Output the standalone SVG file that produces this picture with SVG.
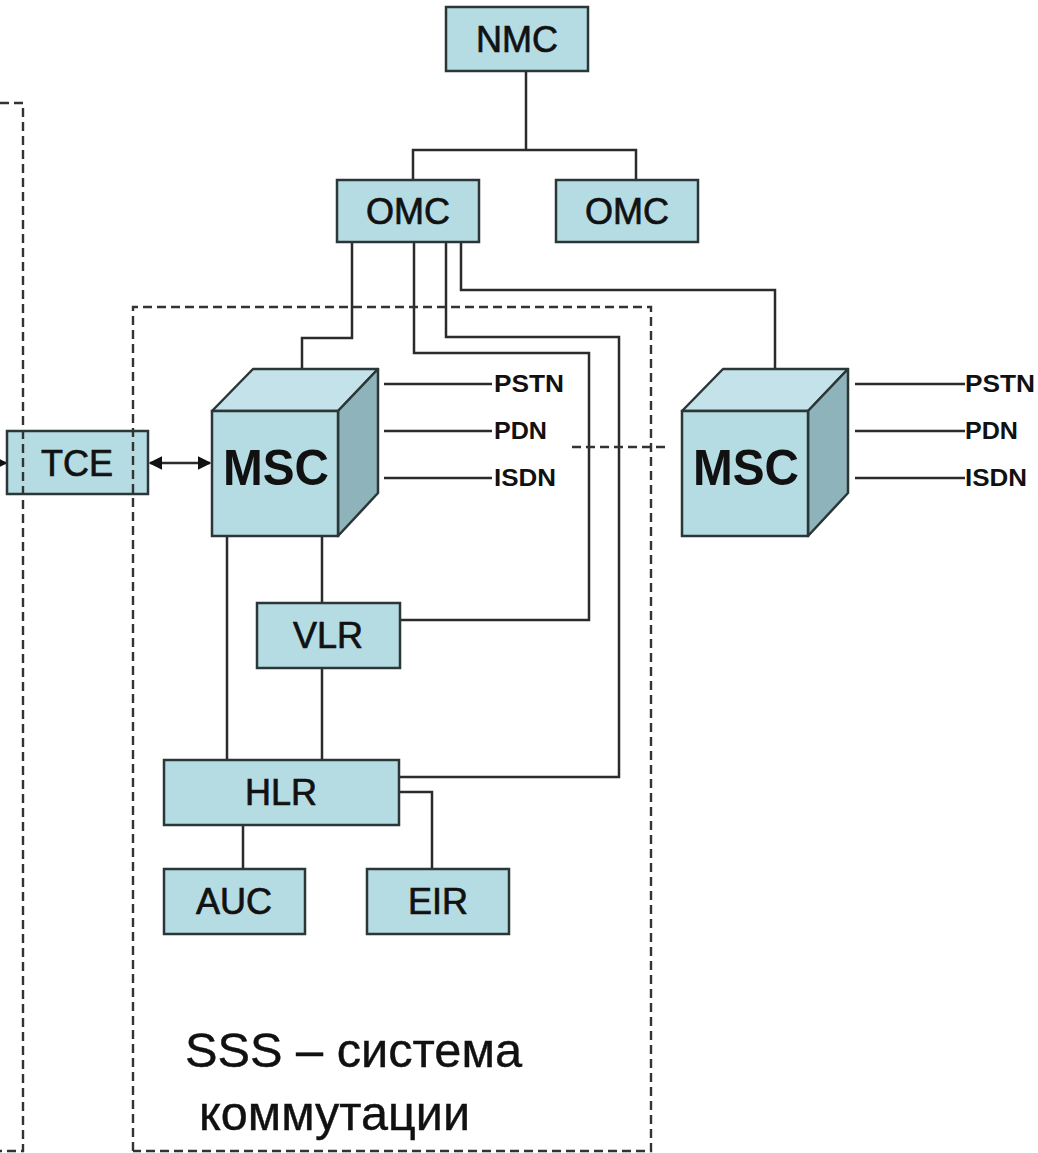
<svg xmlns="http://www.w3.org/2000/svg" width="1038" height="1153" viewBox="0 0 1038 1153">
<defs>
<style>
.box{fill:#b5dbe3;stroke:#2b3636;stroke-width:2.5}
.top{fill:#c3e2e9;stroke:#2b3636;stroke-width:2.5;stroke-linejoin:round}
.side{fill:#8fb3bb;stroke:#2b3636;stroke-width:2.5;stroke-linejoin:round}
.lbl{font-family:"Liberation Sans",Arial,sans-serif;font-size:36px;fill:#111;stroke:#111;stroke-width:0.7;text-anchor:middle}
.big{font-family:"Liberation Sans",Arial,sans-serif;font-size:50px;font-weight:bold;fill:#111;text-anchor:middle}
.net{font-family:"Liberation Sans",Arial,sans-serif;font-size:24px;font-weight:bold;fill:#111}
.cap{font-family:"Liberation Sans",Arial,sans-serif;font-size:48px;fill:#111;stroke:#111;stroke-width:0.4}
.ln{fill:none;stroke:#2b2b2b;stroke-width:2.5}
.dash{fill:none;stroke:#333;stroke-width:2.4;stroke-dasharray:9 5}
</style>
<marker id="ah" viewBox="0 0 10 10" refX="9" refY="5" markerWidth="5.5" markerHeight="5.5" orient="auto-start-reverse" markerUnits="strokeWidth">
<path d="M0,0 L10,5 L0,10 z" fill="#111"/>
</marker>
</defs>
<rect width="1038" height="1153" fill="#fff"/>

<g id="connectors">
<path class="ln" d="M526,71 V150 M413,180 V150 H636 V180"/>
<path class="ln" d="M352,242 V338 H302 V369"/>
<path class="ln" d="M414,242 V353 H589 V620 H400"/>
<path class="ln" d="M446,242 V337 H619 V777 H399"/>
<path class="ln" d="M461,242 V290 H775 V369"/>
<path class="ln" d="M384,384 H492 M384,431 H492 M384,478 H492"/>
<path class="ln" d="M855,384 H965 M855,431 H965 M855,478 H965"/>
<path class="ln" d="M227,536 V760 M322,536 V603 M322,668 V760"/>
<path class="ln" d="M243,825 V869 M399,792 H432 V869"/>
<path class="ln" d="M150,463 H210" marker-start="url(#ah)" marker-end="url(#ah)"/>
<path class="ln" d="M0,463 H6" marker-end="url(#ah)"/>
<path class="dash" d="M572,447 H668"/>
</g>

<g id="nmc"><rect class="box" x="446" y="7" width="142" height="64"/><text class="lbl" x="517" y="52">NMC</text></g>
<g id="omc1"><rect class="box" x="337" y="180" width="142" height="62"/><text class="lbl" x="408" y="224">OMC</text></g>
<g id="omc2"><rect class="box" x="556" y="180" width="142" height="62"/><text class="lbl" x="627" y="224">OMC</text></g>

<g id="tce"><rect class="box" x="7" y="431" width="141" height="63"/><text class="lbl" x="77" y="476">TCE</text></g>

<g id="msc1">
<path class="top" d="M212,411 L253,369 H378 L338,411 Z"/>
<path class="side" d="M338,411 L378,369 V493 L338,536 Z"/>
<rect class="box" x="212" y="411" width="126" height="125"/>
<text class="big" x="276" y="485" textLength="106" lengthAdjust="spacingAndGlyphs">MSC</text>
</g>
<g id="msc2">
<path class="top" d="M682,411 L723,369 H848 L808,411 Z"/>
<path class="side" d="M808,411 L848,369 V493 L808,536 Z"/>
<rect class="box" x="682" y="411" width="126" height="125"/>
<text class="big" x="746" y="485" textLength="106" lengthAdjust="spacingAndGlyphs">MSC</text>
</g>

<g id="net-labels">
<text class="net" x="494" y="392" textLength="70" lengthAdjust="spacingAndGlyphs">PSTN</text>
<text class="net" x="494" y="439" textLength="53" lengthAdjust="spacingAndGlyphs">PDN</text>
<text class="net" x="494" y="486" textLength="62" lengthAdjust="spacingAndGlyphs">ISDN</text>
<text class="net" x="965" y="392" textLength="70" lengthAdjust="spacingAndGlyphs">PSTN</text>
<text class="net" x="965" y="439" textLength="53" lengthAdjust="spacingAndGlyphs">PDN</text>
<text class="net" x="965" y="486" textLength="62" lengthAdjust="spacingAndGlyphs">ISDN</text>
</g>

<g id="vlr"><rect class="box" x="257" y="603" width="143" height="65"/><text class="lbl" x="328" y="648">VLR</text></g>
<g id="hlr"><rect class="box" x="164" y="760" width="235" height="65"/><text class="lbl" x="281" y="805">HLR</text></g>
<g id="auc"><rect class="box" x="164" y="869" width="141" height="65"/><text class="lbl" x="234" y="914">AUC</text></g>
<g id="eir"><rect class="box" x="367" y="869" width="142" height="65"/><text class="lbl" x="438" y="914">EIR</text></g>

<g id="boundaries">
<path class="dash" d="M0,103 H23 V1151 H0"/>
<path class="dash" d="M133,1151 V307 H651 V1151 H133"/>
</g>

<g id="sss-caption">
<text class="cap" x="185" y="1067" textLength="337" lengthAdjust="spacingAndGlyphs">SSS – система</text>
<text class="cap" x="199" y="1130" textLength="271" lengthAdjust="spacingAndGlyphs">коммутации</text>
</g>
</svg>
